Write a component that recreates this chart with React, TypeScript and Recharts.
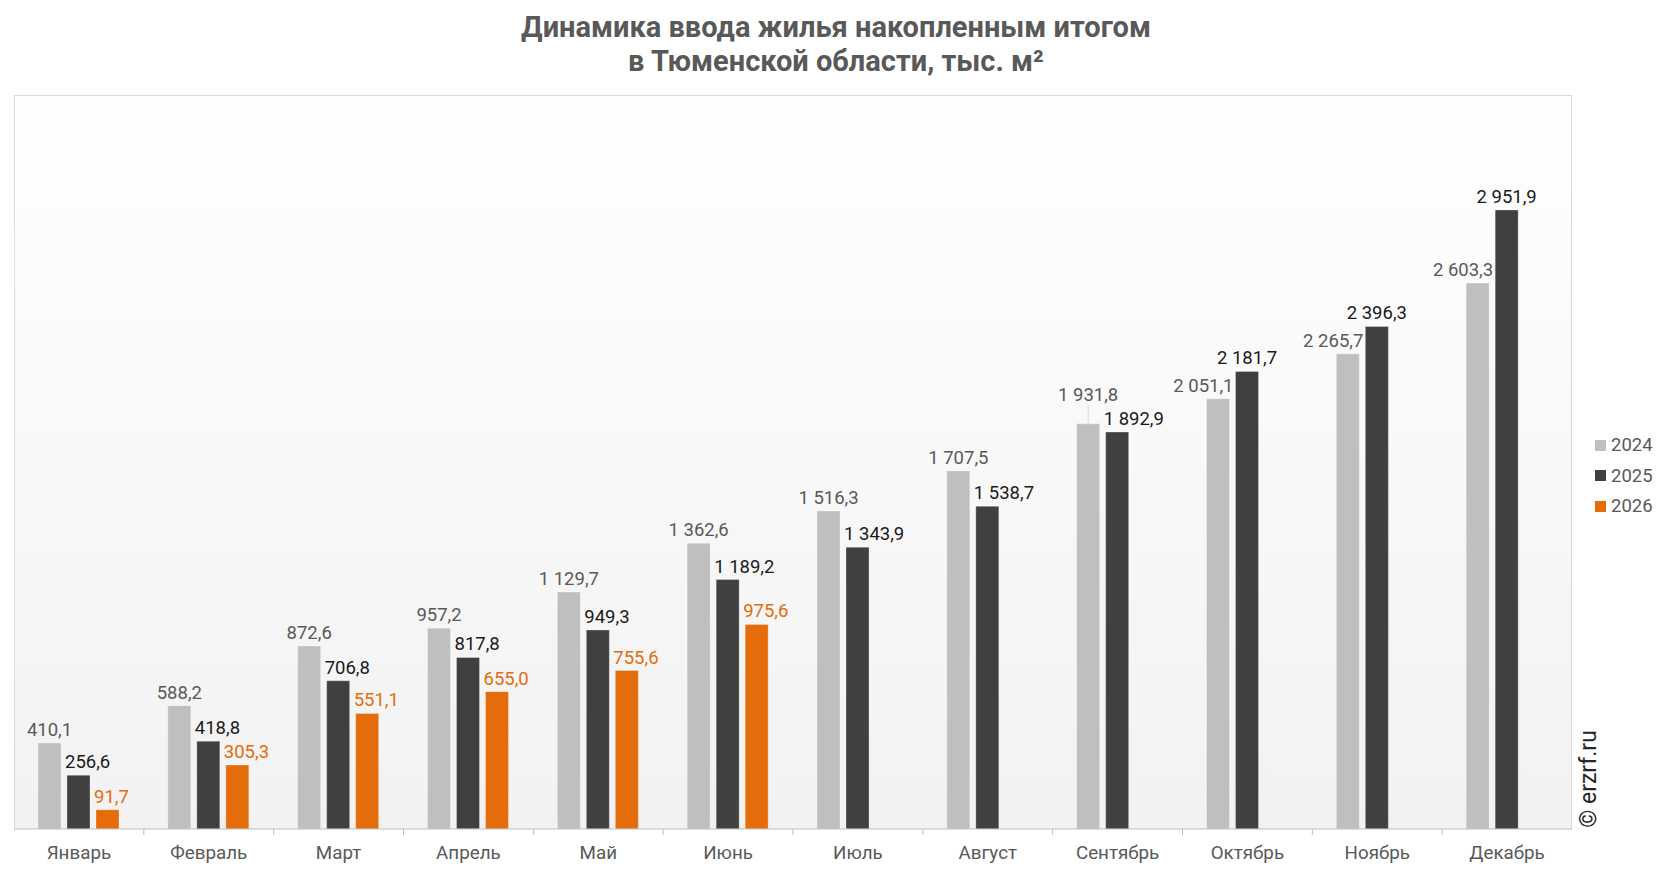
import { BarChart, Bar, XAxis, YAxis, LabelList } from 'recharts';

const months = [
  'Январь', 'Февраль', 'Март', 'Апрель', 'Май', 'Июнь',
  'Июль', 'Август', 'Сентябрь', 'Октябрь', 'Ноябрь', 'Декабрь',
];
const years = ['2024', '2025', '2026'];
const v2024 = [410.1, 588.2, 872.6, 957.2, 1129.7, 1362.6, 1516.3, 1707.5, 1931.8, 2051.1, 2265.7, 2603.3];
const v2025 = [256.6, 418.8, 706.8, 817.8, 949.3, 1189.2, 1343.9, 1538.7, 1892.9, 2181.7, 2396.3, 2951.9];
const v2026 = [91.7, 305.3, 551.1, 655.0, 755.6, 975.6];

const colors = ['#bfbfbf', '#404040', '#e46c0a'];
const labelColors = ['#595959', '#1a1a1a', '#e46c0a'];

const W = 1650;
const H = 856;
const M = { top: 87, right: 86, bottom: 0, left: 6 };
const PLOT_W = W - M.left - M.right;
const AXIS_H = 35;
const PLOT_H = H - M.top - AXIS_H;
const FONT = 'Roboto, "Noto Sans", sans-serif';

const data = months.map((m, i) => ({
  month: m,
  y2024: v2024[i],
  y2025: v2025[i],
  y2026: i < v2026.length ? v2026[i] : null,
}));

function fmt(v: number) {
  const [int, dec] = v.toFixed(1).split('.');
  return int.replace(/\B(?=(\d{3})+(?!\d))/g, ' ') + ',' + dec;
}

// 2024/2025 labels shift sideways (or up, with a leader line) so they don't collide
const makeLabel = (s: number) => (props: any) => {
  const { x, y, width, value, index } = props;
  if (value == null) return null;
  const later = v2025[index] > v2024[index];
  const close = Math.abs(v2025[index] - v2024[index]) < 100;
  let tx = x + width / 2;
  let anchor: 'start' | 'middle' | 'end' = 'middle';
  let lift = 0;
  if (s === 0 && later) { tx = x + width + 4; anchor = 'end'; }
  if (s === 0 && close) lift = 16;
  if (s === 1 && !later) { tx = x - 2; anchor = 'start'; }
  if (s === 2) { tx = x - 2; anchor = 'start'; }
  return (
    <g>
      {lift > 0 && (
        <line x1={x + width / 2} x2={x + width / 2} y1={y} y2={y - lift - 3} stroke="#d9d9d9" />
      )}
      <text x={tx} y={y - 7 - lift} textAnchor={anchor} fill={labelColors[s]}
        fontSize={18.5} fontFamily={FONT}>
        {fmt(value)}
      </text>
    </g>
  );
};

const MonthTick = (props: any) => {
  const { x, y, payload, index } = props;
  const band = PLOT_W / months.length;
  return (
    <g>
      {index > 0 && (
        <line x1={x - band / 2} x2={x - band / 2} y1={y} y2={y + 6} stroke="#bfbfbf" />
      )}
      <text x={x} y={y + 30} textAnchor="middle" fill="#595959" fontSize={18.8} fontFamily={FONT}>
        {payload.value}
      </text>
    </g>
  );
};

export default function App() {
  return (
    <div style={{ position: 'relative', width: W, height: H, fontFamily: FONT }}>
      <div style={{
        position: 'absolute', left: 0, top: 2, width: 1656, textAlign: 'center',
        fontSize: 29, lineHeight: '34px', fontWeight: 700, color: '#595959',
      }}>
        <div>Динамика ввода жилья накопленным итогом</div>
        <div>в Тюменской области, тыс. м²</div>
      </div>
      <div style={{
        position: 'absolute', left: M.left, top: M.top, width: PLOT_W, height: PLOT_H,
        boxSizing: 'border-box', border: '1px solid #d9d9d9', borderBottom: 'none',
        background: 'linear-gradient(to bottom, #ffffff 0%, #f2f2f2 100%)',
      }} />
      <div style={{ position: 'absolute', left: 0, top: 0 }}>
        <BarChart width={W} height={H} data={data} margin={M} barSize={23} barGap={6}>
          <XAxis dataKey="month" height={AXIS_H} stroke="#bfbfbf" tickLine={false}
            tickSize={0} tickMargin={0} interval={0} tick={<MonthTick />} />
          <YAxis hide domain={[0, 3500]} />
          {['y2024', 'y2025', 'y2026'].map((k, s) => (
            <Bar key={k} dataKey={k} fill={colors[s]} stroke="#ffffff" strokeOpacity={0.3}
              isAnimationActive={false}>
              <LabelList dataKey={k} content={makeLabel(s)} />
            </Bar>
          ))}
        </BarChart>
      </div>
      <div style={{ position: 'absolute', left: 1587, top: 422 }}>
        {years.map((yr, s) => (
          <div key={yr} style={{ display: 'flex', alignItems: 'center', height: 30.5 }}>
            <span style={{ width: 11, height: 11, background: colors[s], marginRight: 5 }} />
            <span style={{ fontSize: 18.5, color: '#595959' }}>{yr}</span>
          </div>
        ))}
      </div>
      <div style={{
        position: 'absolute', left: 1580, top: 771, transform: 'translate(-50%, -50%) rotate(-90deg)',
        fontSize: 23, color: '#262626', whiteSpace: 'nowrap',
      }}>
        © erzrf.ru
      </div>
    </div>
  );
}
